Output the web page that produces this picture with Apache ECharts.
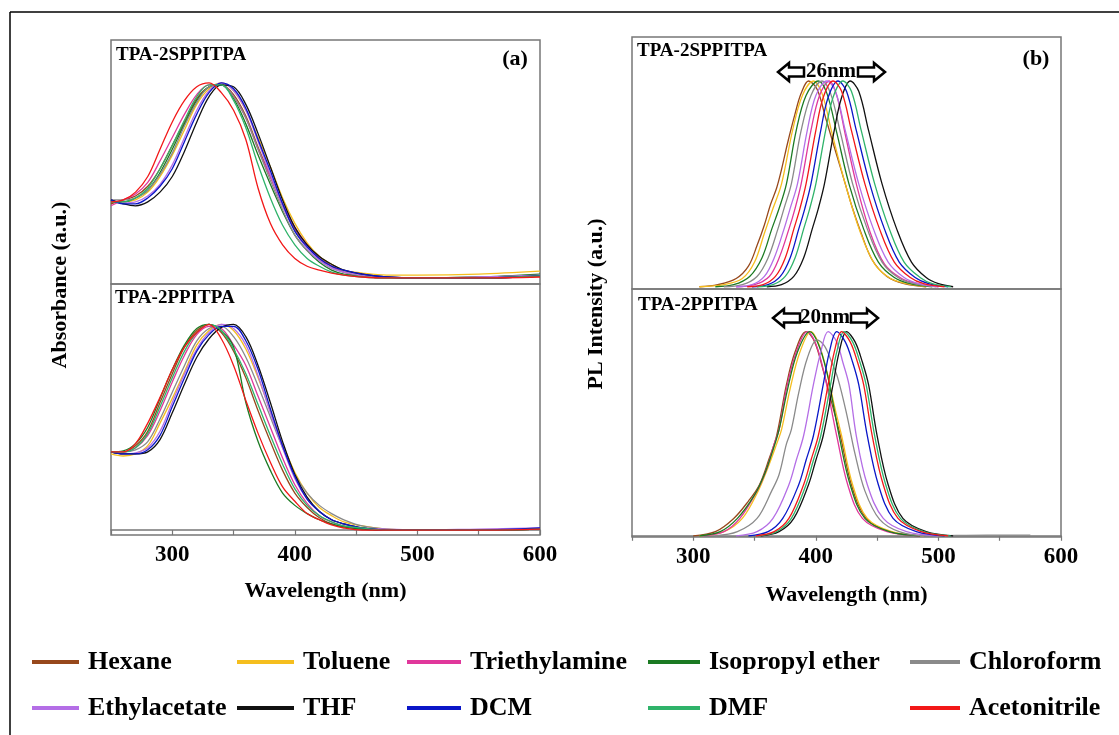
<!DOCTYPE html>
<html>
<head>
<meta charset="utf-8">
<title>Absorption and PL spectra</title>
<script src="https://cdn.jsdelivr.net/npm/echarts@6.0.0/dist/echarts.min.js"></script>
<style>
html,body{margin:0;padding:0;background:#fff;}
#main{width:1119px;height:735px;}
</style>
</head>
<body>
<div id="main"></div>
<script>
// solvents, in legend order
var SOLVENTS = ['Hexane','Toluene','Triethylamine','Isopropyl ether','Chloroform','Ethylacetate','THF','DCM','DMF','Acetonitrile'];
var COLORS = ['#97481c','#f5be1e','#e0379b','#1b7a22','#8a8a8a','#b46ee6','#111111','#0a16c8','#2fb36a','#f21818'];

// absorbance: shared wavelength grid (nm)
var ABS_X = [250,260,270,280,290,300,310,320,330,340,350,360,370,380,390,400,410,420,430,440,455,475,500,550,600];

// (a) TPA-2SPPITPA absorbance
var aTop_hexane        = [0.38,0.40,0.42,0.47,0.56,0.68,0.80,0.92,0.98,0.99,0.94,0.83,0.67,0.52,0.37,0.25,0.17,0.11,0.06,0.03,0.01,0,0,0,0.01];
var aTop_toluene       = [0.39,0.39,0.40,0.44,0.52,0.63,0.76,0.89,0.97,1.0,0.96,0.86,0.72,0.57,0.41,0.28,0.18,0.11,0.07,0.04,0.025,0.015,0.015,0.02,0.035];
var aTop_triethylamine = [0.37,0.40,0.43,0.49,0.60,0.72,0.84,0.94,0.99,0.99,0.93,0.82,0.66,0.52,0.38,0.26,0.17,0.10,0.06,0.03,0.01,0,0,0,0.01];
var aTop_isopropyl     = [0.39,0.39,0.41,0.45,0.54,0.66,0.79,0.91,0.98,0.99,0.92,0.79,0.63,0.48,0.34,0.22,0.14,0.08,0.04,0.02,0.01,0,0,0.005,0.02];
var aTop_chloroform    = [0.40,0.40,0.41,0.45,0.53,0.64,0.78,0.90,0.98,0.99,0.93,0.82,0.66,0.50,0.35,0.22,0.14,0.09,0.05,0.03,0.01,0,0,0.005,0.01];
var aTop_ethylacetate  = [0.40,0.385,0.39,0.42,0.48,0.58,0.72,0.86,0.96,1.0,0.96,0.86,0.70,0.53,0.37,0.24,0.15,0.09,0.05,0.03,0.015,0.005,0,0.005,0.015];
var aTop_thf           = [0.40,0.38,0.37,0.39,0.44,0.52,0.65,0.80,0.93,0.99,0.98,0.89,0.74,0.57,0.40,0.26,0.17,0.11,0.07,0.04,0.02,0.005,0,0,0.01];
var aTop_dcm           = [0.40,0.38,0.38,0.41,0.47,0.56,0.70,0.84,0.95,1.0,0.97,0.87,0.71,0.55,0.38,0.24,0.16,0.10,0.06,0.04,0.02,0.005,0,0,0.01];
var aTop_dmf           = [0.39,0.39,0.41,0.46,0.56,0.68,0.81,0.93,0.99,0.99,0.91,0.77,0.58,0.41,0.27,0.17,0.10,0.06,0.03,0.015,0.005,0,0,0,0.01];
var aTop_acetonitrile  = [0.39,0.40,0.44,0.52,0.66,0.80,0.91,0.98,1.0,0.95,0.86,0.71,0.46,0.28,0.17,0.10,0.06,0.04,0.025,0.015,0.005,0,0,0,0.005];

// (a) TPA-2PPITPA absorbance
var aBot_hexane        = [0.38,0.38,0.41,0.48,0.62,0.76,0.89,0.97,1.0,0.96,0.87,0.74,0.58,0.43,0.29,0.18,0.11,0.06,0.03,0.015,0.005,0,0,0,0.005];
var aBot_toluene       = [0.37,0.36,0.37,0.41,0.52,0.64,0.77,0.90,0.97,1.0,0.97,0.88,0.74,0.58,0.42,0.28,0.18,0.11,0.07,0.04,0.02,0.005,0,0,0.005];
var aBot_triethylamine = [0.38,0.38,0.40,0.46,0.58,0.72,0.85,0.95,0.99,0.98,0.90,0.80,0.65,0.50,0.35,0.22,0.13,0.07,0.04,0.02,0.01,0,0,0,0.005];
var aBot_isopropyl     = [0.38,0.385,0.42,0.50,0.64,0.78,0.90,0.98,1.0,0.97,0.89,0.62,0.43,0.29,0.18,0.12,0.08,0.05,0.03,0.015,0.005,0,0,0,0.005];
var aBot_chloroform    = [0.38,0.38,0.39,0.43,0.54,0.67,0.80,0.92,0.98,0.99,0.94,0.84,0.70,0.55,0.40,0.27,0.18,0.12,0.08,0.05,0.02,0.005,0,0,0.005];
var aBot_ethylacetate  = [0.38,0.37,0.375,0.40,0.48,0.62,0.76,0.88,0.96,1.0,0.98,0.90,0.75,0.57,0.40,0.25,0.15,0.09,0.05,0.03,0.01,0.005,0,0.005,0.01];
var aBot_thf           = [0.38,0.37,0.37,0.38,0.44,0.57,0.71,0.84,0.93,0.985,1.0,0.94,0.80,0.62,0.43,0.27,0.16,0.09,0.05,0.03,0.01,0,0,0,0.005];
var aBot_dcm           = [0.38,0.37,0.37,0.39,0.46,0.60,0.74,0.87,0.95,0.99,0.99,0.92,0.78,0.59,0.41,0.26,0.15,0.09,0.05,0.03,0.01,0,0,0,0.01];
var aBot_dmf           = [0.38,0.38,0.40,0.47,0.60,0.74,0.87,0.96,1.0,0.97,0.88,0.76,0.61,0.46,0.32,0.20,0.12,0.07,0.04,0.02,0.01,0,0,0,0.005];
var aBot_acetonitrile  = [0.38,0.38,0.42,0.52,0.645,0.78,0.89,0.96,1.0,0.93,0.80,0.63,0.47,0.33,0.21,0.14,0.08,0.05,0.025,0.01,0,0,0,0,0.005];

// (b) TPA-2SPPITPA PL, [nm, intensity]
var bTop_hexane        = [[305,0],[320,0.01],[335,0.04],[345,0.10],[352,0.20],[358,0.30],[363,0.40],[368,0.48],[372,0.57],[377,0.70],[383,0.84],[388,0.94],[394,1.0],[401,0.96],[408,0.82],[416,0.66],[424,0.50],[430,0.38],[437,0.26],[446,0.13],[458,0.05],[472,0.015],[490,0]];
var bTop_toluene       = [[305,0],[325,0.01],[340,0.04],[350,0.12],[358,0.26],[365,0.38],[372,0.50],[381,0.76],[389,0.93],[398,1.0],[405,0.94],[413,0.75],[424,0.50],[436,0.27],[448,0.11],[461,0.04],[474,0.015],[490,0]];
var bTop_triethylamine = [[335,0],[350,0.01],[362,0.05],[370,0.14],[378,0.28],[383,0.38],[388,0.50],[396,0.76],[403,0.93],[411,1.0],[417,0.93],[424,0.74],[433,0.50],[444,0.27],[456,0.11],[470,0.04],[483,0.015],[500,0]];
var bTop_isopropyl     = [[318,0],[333,0.01],[346,0.05],[356,0.14],[364,0.28],[370,0.38],[376,0.50],[384,0.76],[392,0.93],[402,1.0],[409,0.94],[417,0.75],[427,0.50],[439,0.28],[451,0.12],[464,0.045],[477,0.015],[495,0]];
var bTop_chloroform    = [[325,0],[340,0.01],[352,0.05],[361,0.14],[369,0.28],[374,0.38],[380,0.50],[388,0.76],[396,0.93],[405,1.0],[412,0.94],[420,0.75],[430,0.50],[442,0.28],[454,0.12],[467,0.045],[480,0.015],[498,0]];
var bTop_ethylacetate  = [[335,0],[348,0.01],[358,0.05],[366,0.14],[374,0.28],[379,0.38],[385,0.50],[393,0.76],[400,0.93],[409,1.0],[416,0.95],[424,0.76],[435,0.50],[447,0.28],[459,0.12],[472,0.045],[484,0.015],[500,0]];
var bTop_thf           = [[360,0],[372,0.01],[382,0.05],[390,0.14],[397,0.28],[402,0.38],[407,0.50],[415,0.76],[421,0.92],[428,1.0],[435,0.95],[443,0.76],[454,0.50],[466,0.28],[478,0.12],[490,0.045],[500,0.015],[512,0]];
var bTop_dcm           = [[348,0],[361,0.01],[371,0.05],[379,0.14],[386,0.28],[391,0.38],[396,0.50],[404,0.76],[410,0.92],[418,1.0],[425,0.95],[433,0.76],[444,0.50],[456,0.28],[468,0.12],[481,0.045],[492,0.015],[508,0]];
var bTop_dmf           = [[352,0],[365,0.01],[375,0.05],[383,0.14],[390,0.28],[395,0.38],[400,0.50],[408,0.76],[414,0.92],[422,1.0],[429,0.95],[437,0.76],[448,0.50],[460,0.28],[472,0.12],[485,0.045],[495,0.015],[510,0]];
var bTop_acetonitrile  = [[344,0],[357,0.01],[367,0.05],[375,0.14],[382,0.28],[387,0.38],[392,0.50],[400,0.76],[406,0.92],[414,1.0],[421,0.95],[429,0.76],[440,0.50],[452,0.28],[464,0.12],[477,0.045],[488,0.015],[505,0]];

// (b) TPA-2PPITPA PL, [nm, intensity]
var bBot_hexane        = [[300,0],[318,0.02],[333,0.085],[345,0.17],[354,0.25],[362,0.38],[368,0.49],[376,0.74],[383,0.90],[392,1.0],[399,0.95],[406,0.81],[413,0.65],[420,0.49],[429,0.25],[441,0.085],[460,0.02],[485,0]];
var bBot_toluene       = [[305,0],[325,0.02],[340,0.085],[353,0.22],[360,0.32],[368,0.45],[372,0.52],[379,0.72],[387,0.90],[396,1.0],[403,0.93],[410,0.78],[415,0.64],[421,0.49],[430,0.25],[442,0.085],[462,0.02],[488,0]];
var bBot_triethylamine = [[308,0],[325,0.02],[338,0.085],[352,0.22],[360,0.33],[366,0.45],[370,0.52],[376,0.72],[384,0.90],[393,1.0],[400,0.94],[407,0.79],[412,0.64],[417,0.49],[426,0.25],[438,0.085],[458,0.02],[485,0]];
var bBot_isopropyl     = [[305,0],[322,0.02],[336,0.085],[350,0.20],[358,0.30],[365,0.42],[370,0.52],[377,0.72],[385,0.90],[395,1.0],[402,0.94],[409,0.80],[414,0.65],[419,0.49],[428,0.25],[440,0.085],[460,0.02],[485,0]];
var bBot_chloroform    = [[318,0],[336,0.02],[352,0.085],[364,0.22],[370,0.30],[376,0.45],[380,0.52],[386,0.70],[393,0.87],[401,0.96],[407,0.93],[413,0.85],[418,0.77],[425,0.60],[432,0.40],[440,0.22],[452,0.08],[468,0.02],[490,0],[540,0.003],[575,0.003]];
var bBot_ethylacetate  = [[335,0],[352,0.02],[365,0.085],[378,0.25],[384,0.37],[390,0.49],[398,0.74],[404,0.90],[410,1.0],[417,0.95],[422,0.85],[427,0.74],[433,0.49],[442,0.25],[455,0.085],[474,0.02],[500,0]];
var bBot_thf           = [[355,0],[370,0.02],[382,0.085],[394,0.25],[400,0.37],[406,0.49],[414,0.74],[419,0.90],[425,1.0],[432,0.95],[438,0.85],[443,0.74],[450,0.49],[459,0.25],[471,0.085],[490,0.02],[512,0]];
var bBot_dcm           = [[345,0],[361,0.02],[373,0.085],[386,0.25],[392,0.37],[398,0.49],[406,0.74],[411,0.90],[417,1.0],[424,0.95],[430,0.85],[435,0.74],[442,0.49],[451,0.25],[463,0.085],[482,0.02],[505,0]];
var bBot_dmf           = [[353,0],[368,0.02],[380,0.085],[392,0.25],[398,0.37],[404,0.49],[412,0.74],[417,0.90],[423,1.0],[430,0.95],[436,0.85],[441,0.74],[448,0.49],[457,0.25],[469,0.085],[488,0.02],[510,0]];
var bBot_acetonitrile  = [[351,0],[366,0.02],[378,0.085],[390,0.25],[396,0.37],[402,0.49],[410,0.74],[415,0.90],[421,1.0],[428,0.95],[434,0.85],[439,0.74],[446,0.49],[455,0.25],[467,0.085],[486,0.02],[508,0]];

var A_TOP = [aTop_hexane,aTop_toluene,aTop_triethylamine,aTop_isopropyl,aTop_chloroform,aTop_ethylacetate,aTop_thf,aTop_dcm,aTop_dmf,aTop_acetonitrile];
var A_BOT = [aBot_hexane,aBot_toluene,aBot_triethylamine,aBot_isopropyl,aBot_chloroform,aBot_ethylacetate,aBot_thf,aBot_dcm,aBot_dmf,aBot_acetonitrile];
var B_TOP = [bTop_hexane,bTop_toluene,bTop_triethylamine,bTop_isopropyl,bTop_chloroform,bTop_ethylacetate,bTop_thf,bTop_dcm,bTop_dmf,bTop_acetonitrile];
var B_BOT = [bBot_hexane,bBot_toluene,bBot_triethylamine,bBot_isopropyl,bBot_chloroform,bBot_ethylacetate,bBot_thf,bBot_dcm,bBot_dmf,bBot_acetonitrile];

var FONT = '"Liberation Serif", "Times New Roman", serif';

var chart = echarts.init(document.getElementById('main'));

var grids = [
	{left:111, top:40, width:429, height:244},
	{left:111, top:284, width:429, height:251},
	{left:632, top:37, width:429, height:252},
	{left:632, top:289, width:429, height:248}
];
var yRanges = [[-0.031,1.22],[-0.024,1.196],[-0.011,1.214],[-0.006,1.209]];
var nameGaps = [0, 45, 0, 47];

var xAxes = grids.map(function(g, i){
	var bottom = (i === 1 || i === 3);
	return {
		type:'value', gridIndex:i, min:250, max:600, interval:50,
		axisLine:{show:bottom, lineStyle:{color:'#777', width:1.5}},
		axisTick:{show:bottom, length:5, lineStyle:{color:'#777', width:1.2}},
		axisLabel:{show:bottom, margin:9, color:'#000', fontFamily:FONT, fontWeight:'bold', fontSize:23,
			formatter:function(v){ return (v % 100 === 0 && v >= 300) ? String(v) : ''; }},
		splitLine:{show:false},
		name: bottom ? 'Wavelength (nm)' : '',
		nameLocation:'middle', nameGap:nameGaps[i],
		nameTextStyle:{color:'#000', fontFamily:FONT, fontWeight:'bold', fontSize:22}
	};
});

var yAxes = grids.map(function(g, i){
	return {type:'value', gridIndex:i, min:yRanges[i][0], max:yRanges[i][1], show:false};
});

var series = [];
function addPanel(gi, arrays, shared){
	arrays.forEach(function(arr, k){
		var data = shared ? ABS_X.map(function(x, j){ return [x, arr[j]]; }) : arr;
		series.push({
			type:'line', name:SOLVENTS[k], xAxisIndex:gi, yAxisIndex:gi,
			data:data, symbol:'none', showSymbol:false, smooth:0.35,
			color:COLORS[k], lineStyle:{color:COLORS[k], width:1.3}, silent:true
		});
	});
}
addPanel(0, A_TOP, true);
addPanel(1, A_BOT, true);
addPanel(2, B_TOP, false);
addPanel(3, B_BOT, false);

var legendCols = [
	{left:27, w:47, names:['Hexane','Ethylacetate']},
	{left:232, w:57, names:['Toluene','THF']},
	{left:402, w:54, names:['Triethylamine','DCM']},
	{left:643, w:52, names:['Isopropyl ether','DMF']},
	{left:905, w:50, names:['Chloroform','Acetonitrile']}
];
var legends = legendCols.map(function(c){
	return {
		data:c.names, left:c.left, top:641, orient:'vertical', icon:'rect',
		itemWidth:c.w, itemHeight:4, itemGap:14, selectedMode:false,
		textStyle:{fontFamily:FONT, fontWeight:'bold', fontSize:26, color:'#000', lineHeight:32, padding:[0,0,0,4]}
	};
});

function txt(x, y, s, size, align, rot){
	return {
		type:'text', x:x, y:y, rotation:rot || 0, z:100,
		style:{text:s, fill:'#000', fontFamily:FONT, fontWeight:'bold', fontSize:size, align:align || 'left', verticalAlign:'middle'}
	};
}
// hollow block arrow; dir -1 points left, 1 points right
function arrow(x0, x1, y, dir){
	var tip = dir < 0 ? x0 : x1, back = dir < 0 ? x0 + 11 : x1 - 11, tail = dir < 0 ? x1 : x0;
	return {
		type:'polygon', z:100,
		shape:{points:[[tip,y],[back,y-9],[back,y-4.5],[tail,y-4.5],[tail,y+4.5],[back,y+4.5],[back,y+9]]},
		style:{fill:'#fff', stroke:'#000', lineWidth:2.5}
	};
}

var graphics = [
	{type:'line', shape:{x1:10, y1:12, x2:1119, y2:12}, style:{stroke:'#000', lineWidth:1.5}},
	{type:'line', shape:{x1:10, y1:12, x2:10, y2:735}, style:{stroke:'#000', lineWidth:1.5}},
	txt(60, 285, 'Absorbance (a.u.)', 22, 'center', Math.PI/2),
	txt(596, 304, 'PL Intensity (a.u.)', 22, 'center', Math.PI/2),
	txt(116, 55, 'TPA-2SPPITPA', 19),
	txt(115, 298, 'TPA-2PPITPA', 19),
	txt(637, 51, 'TPA-2SPPITPA', 19),
	txt(638, 305, 'TPA-2PPITPA', 19),
	txt(515, 59, '(a)', 22, 'center'),
	txt(1036, 59, '(b)', 22, 'center'),
	arrow(778, 804, 72, -1),
	txt(831, 72, '26nm', 21, 'center'),
	arrow(858, 885, 72, 1),
	arrow(773, 800, 318, -1),
	txt(825, 318, '20nm', 21, 'center'),
	arrow(851, 878, 318, 1)
];

chart.setOption({
	animation:false,
	backgroundColor:'#fff',
	grid:grids.map(function(g){
		return {left:g.left, top:g.top, width:g.width, height:g.height, show:true, borderColor:'#777', borderWidth:1.5, backgroundColor:'transparent'};
	}),
	xAxis:xAxes,
	yAxis:yAxes,
	legend:legends,
	series:series,
	graphic:graphics
});

window.onresize = function(){
	chart.resize();
}
</script>
</body>
</html>
